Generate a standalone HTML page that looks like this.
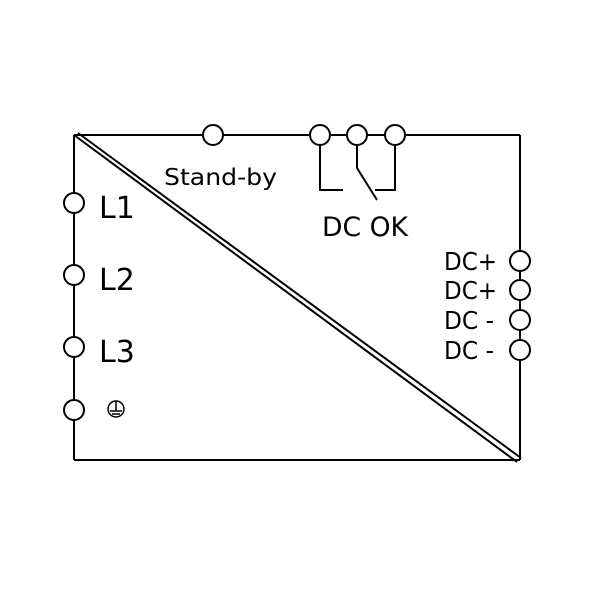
<!DOCTYPE html>
<html><head><style>body{margin:0;background:#fff}svg{display:block}</style></head><body>
<svg width="600" height="600" viewBox="0 0 600 600" xmlns="http://www.w3.org/2000/svg">
<g stroke="#000" stroke-width="2" fill="none">
<line x1="74" y1="135" x2="520" y2="135"/>
<line x1="74" y1="135" x2="74" y2="460"/>
<line x1="520" y1="135" x2="520" y2="460"/>
<line x1="74" y1="460" x2="520" y2="460"/>
<line x1="74" y1="135" x2="517" y2="462"/>
<line x1="78" y1="133" x2="521" y2="458"/>
<path d="M320 145 V190 H343"/>
<path d="M357 145 V168 L377 200"/>
<path d="M395 145 V190 H375"/>
</g>
<g stroke="#000" stroke-width="2" fill="#fff">
<circle cx="213" cy="135" r="10"/>
<circle cx="320" cy="135" r="10"/>
<circle cx="357" cy="135" r="10"/>
<circle cx="395" cy="135" r="10"/>
<circle cx="74" cy="203" r="10"/>
<circle cx="74" cy="275" r="10"/>
<circle cx="74" cy="347" r="10"/>
<circle cx="74" cy="410" r="10"/>
<circle cx="520" cy="261" r="10"/>
<circle cx="520" cy="290" r="10"/>
<circle cx="520" cy="320" r="10"/>
<circle cx="520" cy="350" r="10"/>
<circle cx="116" cy="409" r="8" stroke-width="1.5"/>
</g>
<g stroke="#000" stroke-width="1.5">
<line x1="116" y1="401" x2="116" y2="411"/>
<line x1="110" y1="411" x2="122" y2="411"/>
<line x1="112" y1="414" x2="120" y2="414"/>
</g>
<g font-family="DejaVu Sans, Liberation Sans, sans-serif" fill="#000">
<text x="164" y="185" font-size="23" textLength="113" lengthAdjust="spacingAndGlyphs">Stand-by</text>
<text x="322" y="236" font-size="27" textLength="86" lengthAdjust="spacingAndGlyphs">DC OK</text>
<text x="99" y="218" font-size="30">L1</text>
<text x="99" y="290" font-size="30">L2</text>
<text x="99" y="362" font-size="30">L3</text>
<text x="444" y="270" font-size="25" textLength="53" lengthAdjust="spacingAndGlyphs">DC+</text>
<text x="444" y="299" font-size="25" textLength="53" lengthAdjust="spacingAndGlyphs">DC+</text>
<text x="444" y="329" font-size="25" textLength="50" lengthAdjust="spacingAndGlyphs">DC -</text>
<text x="444" y="359" font-size="25" textLength="50" lengthAdjust="spacingAndGlyphs">DC -</text>
</g>
</svg>
</body></html>
